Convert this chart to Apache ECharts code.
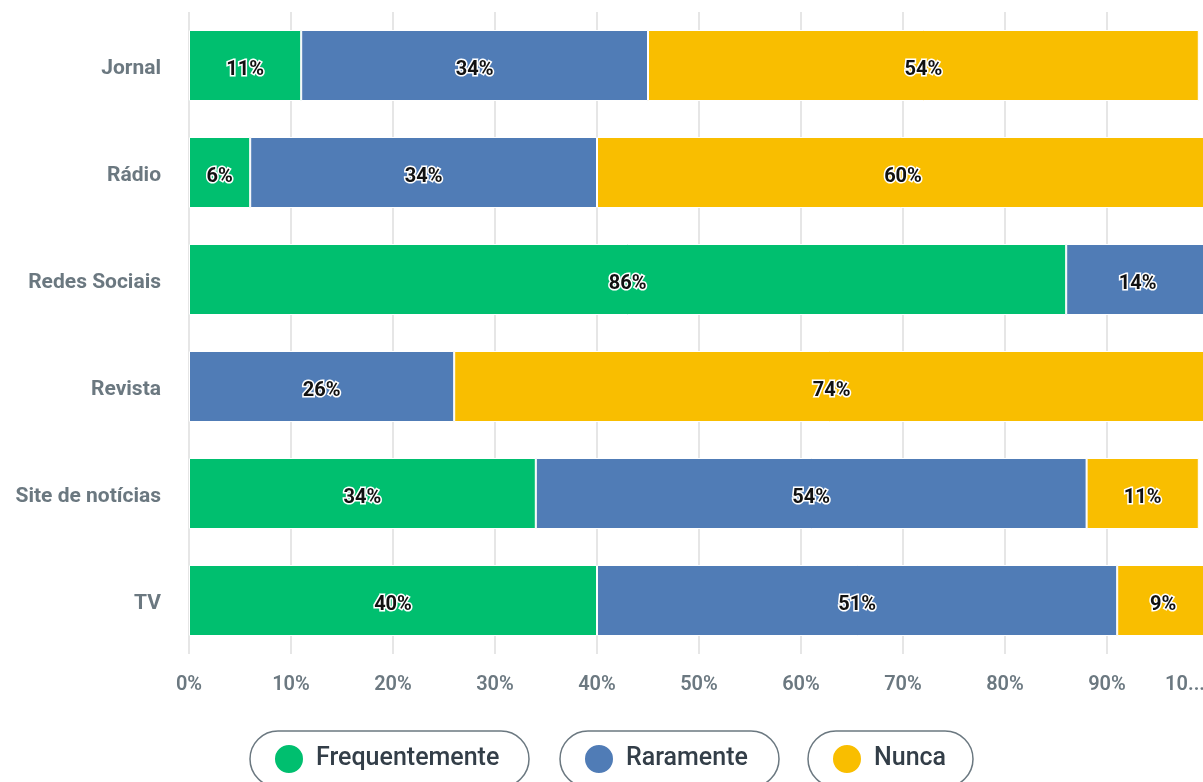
<!DOCTYPE html>
<html>
<head>
<meta charset="utf-8">
<script src="https://cdn.jsdelivr.net/npm/echarts@6/dist/echarts.min.js"></script>
<style>
  html, body { margin:0; padding:0; background:#fff; }
  #chart { width:1203px; height:782px; }
</style>
</head>
<body>
<div id="chart"></div>
<script>
const categories = ['Jornal', 'Rádio', 'Redes Sociais', 'Revista', 'Site de notícias', 'TV'];
const frequentemente = [11, 6, 86, 0, 34, 40];
const raramente = [34, 34, 14, 26, 54, 51];
const nunca = [54, 60, 0, 74, 11, 9];
const xTicks = [0, 10, 20, 30, 40, 50, 60, 70, 80, 90, 100];

const colors = ['#00bf6f', '#507cb6', '#f9be00'];
const font = 'Roboto, "Noto Sans", sans-serif';

let myChart = echarts.init(document.getElementById('chart'));

const makeSeries = (name, data) => ({
    type:'bar',
    name:name,
    stack:'total',
    barWidth:71,
    data:data.map(v => v === 0 ? null : v),
    itemStyle:{
        borderColor:'#fff',
        borderWidth:1
    },
    label:{
        show:true,
        position:'inside',
        offset:[0, 4],
        formatter:p => p.value + '%',
        color:'#111',
        fontFamily:font,
        fontWeight:'bold',
        fontSize:20,
        textBorderColor:'#fff',
        textBorderWidth:3
    }
});

// one legend per pill so each gets its own rounded border
const makeLegend = (name, left, textWidth) => ({
    data:[name],
    left:left,
    top:731,
    orient:'horizontal',
    icon:'circle',
    itemWidth:44,
    itemHeight:30,
    padding:[12, 18, 12, 23],
    borderColor:'#6b7880',
    borderWidth:1.5,
    borderRadius:28,
    selectedMode:false,
    textStyle:{
        color:'#333e48',
        fontFamily:font,
        fontSize:25,
        fontWeight:500,
        width:textWidth,
        lineHeight:32
    }
});

let option = {
    color:colors,
    animation:false,
    grid:{
        top:12,
        left:189,
        width:1020,
        bottom:128,
        containLabel:false,
        outerBoundsMode:'none'
    },
    legend:[
        makeLegend('Frequentemente', 250, 195),
        makeLegend('Raramente', 560, 135),
        makeLegend('Nunca', 808, 81)
    ],
    xAxis:{
        type:'value',
        min:0,
        max:100,
        interval:10,
        axisLine:{ show:false },
        axisTick:{ show:false },
        splitLine:{
            show:true,
            lineStyle:{ color:'#e6e6e6', width:2 }
        },
        axisLabel:{
            margin:21,
            color:'#6b7880',
            fontFamily:font,
            fontSize:20,
            fontWeight:600,
            formatter:v => xTicks.indexOf(v) < 0 ? '' : (v === 100 ? '{last|10...}' : v + '%'),
            rich:{
                last:{
                    color:'#6b7880',
                    fontFamily:font,
                    fontSize:20,
                    fontWeight:600,
                    padding:[0, 4, 0, 0]
                }
            },
            alignMaxLabel:'right'
        }
    },
    yAxis:{
        type:'category',
        inverse:true,
        data:categories,
        axisLine:{ show:false },
        axisTick:{ show:false },
        axisLabel:{
            margin:28,
            formatter:v => '{c|' + v + '}',
            rich:{
                c:{
                    color:'#6b7880',
                    fontFamily:font,
                    fontSize:21,
                    fontWeight:'bold',
                    padding:[7, 0, 0, 0]
                }
            }
        }
    },
    series:[
        makeSeries('Frequentemente', frequentemente),
        makeSeries('Raramente', raramente),
        makeSeries('Nunca', nunca)
    ]
};
myChart.setOption(option);
</script>
</body>
</html>
